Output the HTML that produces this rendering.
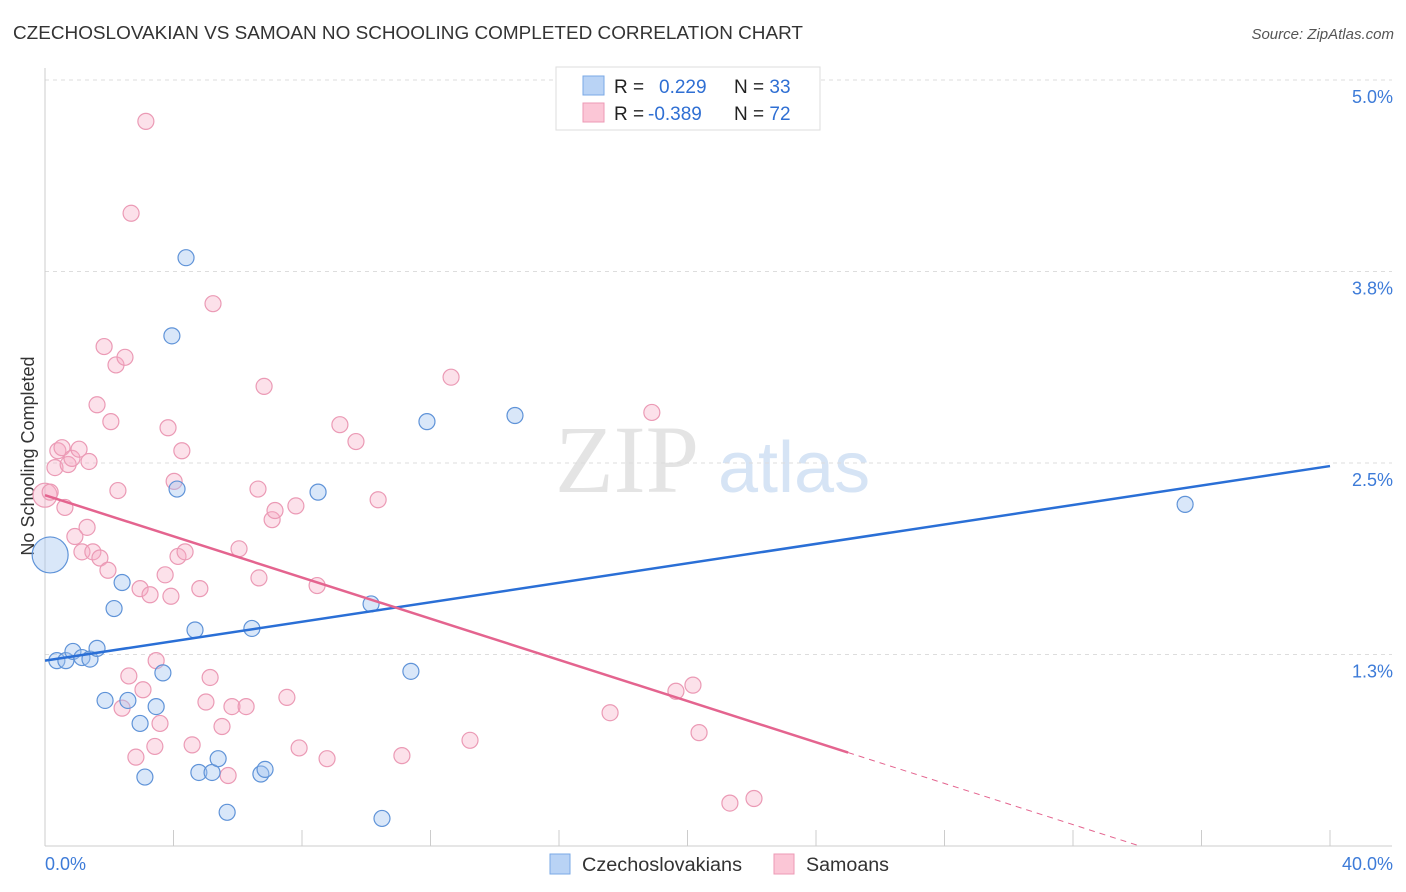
<!DOCTYPE html>
<html><head><meta charset="utf-8"><style>
body{margin:0;background:#fff;font-family:"Liberation Sans",sans-serif;}
svg{display:block}
</style></head><body>
<svg id="c" width="1406" height="892">
<text x="13" y="39" font-size="18" fill="#333" textLength="790" lengthAdjust="spacingAndGlyphs">CZECHOSLOVAKIAN VS SAMOAN NO SCHOOLING COMPLETED CORRELATION CHART</text>
<text x="1394" y="39" font-size="15" fill="#555" font-style="italic" text-anchor="end">Source: ZipAtlas.com</text>
<text transform="translate(34,456) rotate(-90)" font-size="18" fill="#333" text-anchor="middle">No Schooling Completed</text>
<text x="555" y="492" font-size="96" fill="#e4e4e4" font-family="Liberation Serif,serif">ZIP</text>
<text x="718" y="492" font-size="72" fill="#d6e4f5">atlas</text>
<g id="grid"></g><g id="axes"></g><g id="pts"></g><g id="lines"></g>
<g>
<rect x="556" y="67" width="264" height="63" fill="#fff" stroke="#ddd"/>
<rect x="583" y="76" width="21" height="19" fill="#b9d3f5" stroke="#7aa8e6"/>
<rect x="583" y="103" width="21" height="19" fill="#fbc6d6" stroke="#ec9ab5"/>
<text x="614" y="93" font-size="19" fill="#222">R = <tspan x="659" fill="#2f6fd3">0.229</tspan><tspan x="734" fill="#222">N = </tspan><tspan fill="#2f6fd3">33</tspan></text>
<text x="614" y="120" font-size="19" fill="#222">R = <tspan x="648" fill="#2f6fd3">-0.389</tspan><tspan x="734" fill="#222">N = </tspan><tspan fill="#2f6fd3">72</tspan></text>
</g>
<g>
<rect x="550" y="854" width="20" height="20" fill="#b9d3f5" stroke="#7aa8e6"/>
<text x="582" y="871" font-size="19" fill="#333" textLength="160" lengthAdjust="spacingAndGlyphs">Czechoslovakians</text>
<text x="806" y="871" font-size="19" fill="#333" textLength="83" lengthAdjust="spacingAndGlyphs">Samoans</text>
<rect x="774" y="854" width="20" height="20" fill="#fbc6d6" stroke="#ec9ab5"/>
</g>
</svg>
<script>
const blueX=[0.16,0.37,0.65,0.87,1.15,1.40,1.62,1.87,2.15,2.40,2.58,2.96,3.11,3.46,3.67,3.95,4.11,4.39,4.67,4.79,5.20,5.39,5.67,6.44,6.72,6.85,8.50,10.15,10.49,11.39,11.89,14.63,35.49];
const blueY=[1.90,1.21,1.21,1.27,1.23,1.22,1.29,0.95,1.55,1.72,0.95,0.80,0.45,0.91,1.13,3.33,2.33,3.84,1.41,0.48,0.48,0.57,0.22,1.42,0.47,0.50,2.31,1.58,0.18,1.14,2.77,2.81,2.23];
const pinkX=[0,0.16,0.31,0.40,0.53,0.62,0.72,0.84,0.93,1.06,1.15,1.31,1.37,1.49,1.62,1.71,1.84,1.96,2.05,2.21,2.27,2.40,2.49,2.61,2.68,2.83,2.96,3.05,3.14,3.27,3.42,3.46,3.58,3.74,3.83,3.92,4.02,4.14,4.26,4.36,4.58,4.82,5.01,5.14,5.23,5.51,5.70,5.82,6.04,6.26,6.63,6.66,6.82,7.07,7.16,7.53,7.81,7.91,8.47,8.78,9.18,9.68,10.37,11.11,12.64,13.23,17.59,18.89,19.64,20.17,20.36,21.32,22.07];
const pinkY=[2.29,2.31,2.47,2.58,2.60,2.21,2.49,2.53,2.02,2.59,1.92,2.08,2.51,1.92,2.88,1.88,3.26,1.80,2.77,3.14,2.32,0.90,3.19,1.11,4.13,0.58,1.68,1.02,4.73,1.64,0.65,1.21,0.80,1.77,2.73,1.63,2.38,1.89,2.58,1.92,0.66,1.68,0.94,1.10,3.54,0.78,0.46,0.91,1.94,0.91,2.33,1.75,3.00,2.13,2.19,0.97,2.22,0.64,1.70,0.57,2.75,2.64,2.26,0.59,3.06,0.69,0.87,2.83,1.01,1.05,0.74,0.28,0.31];
const yTicks=[5.0,3.75,2.5,1.25];
const yTickLabels=["5.0%","3.8%","2.5%","1.3%"];
const blueFit=[1.21,2.48];
const pinkFit=[2.29,-0.0672];
const X=v=>45+v/40*1285, Y=v=>846-v*153.2;
const NS="http://www.w3.org/2000/svg";
function mk(p,t,a){const e=document.createElementNS(NS,t);for(const k in a)e.setAttribute(k,a[k]);document.getElementById(p).appendChild(e);return e;}
yTicks.forEach((t,i)=>{
 const l=mk('grid','line',{x1:45,x2:1392,y1:Y(t),y2:Y(t),stroke:'#ddd','stroke-dasharray':'4,4'});
 
 
 const tx=mk('grid','text',{x:1393,y:Y(t)+23,'font-size':18,fill:'#3d7bd8','text-anchor':'end'});
 tx.textContent=yTickLabels[i];
 
 
});
mk('axes','line',{x1:45,x2:45,y1:68,y2:846,stroke:'#ccc'});
mk('axes','line',{x1:45,x2:1392,y1:846,y2:846,stroke:'#ccc'});
for(let v=0;v<=40;v+=4){const t=mk('axes','line',{x1:X(v),x2:X(v),y1:830,y2:846,stroke:'#ccc'});
 
 }
let a=mk('axes','text',{x:45,y:870,'font-size':18,fill:'#3d7bd8'});a.textContent='0.0%';


a=mk('axes','text',{x:1393,y:870,'font-size':18,fill:'#3d7bd8','text-anchor':'end'});a.textContent='40.0%';


pinkX.forEach((x,i)=>{const c=mk('pts','circle',{cx:X(x),cy:Y(pinkY[i]),r:i==0?12:8,fill:'rgba(245,170,196,0.35)',stroke:'#eb9ab5','stroke-width':1.2});
 
 });
blueX.forEach((x,i)=>{const c=mk('pts','circle',{cx:X(x),cy:Y(blueY[i]),r:i==0?18:8,fill:'rgba(160,195,240,0.4)',stroke:'#5f93d8','stroke-width':1.2});
 
 });
let ln=mk('lines','line',{x1:X(0),y1:Y(blueFit[0]),x2:X(40),y2:Y(blueFit[1]),stroke:'#2a6fd6','stroke-width':2.5});


const pe=25,pz=-pinkFit[0]/pinkFit[1];
ln=mk('lines','line',{x1:X(0),y1:Y(pinkFit[0]),x2:X(pe),y2:Y(pinkFit[0]+pinkFit[1]*pe),stroke:'#e4648f','stroke-width':2.5});


ln=mk('lines','line',{x1:X(pe),y1:Y(pinkFit[0]+pinkFit[1]*pe),x2:X(pz),y2:Y(0),stroke:'#e4648f','stroke-width':1,'stroke-dasharray':'6,5'});


</script>
</body></html>
